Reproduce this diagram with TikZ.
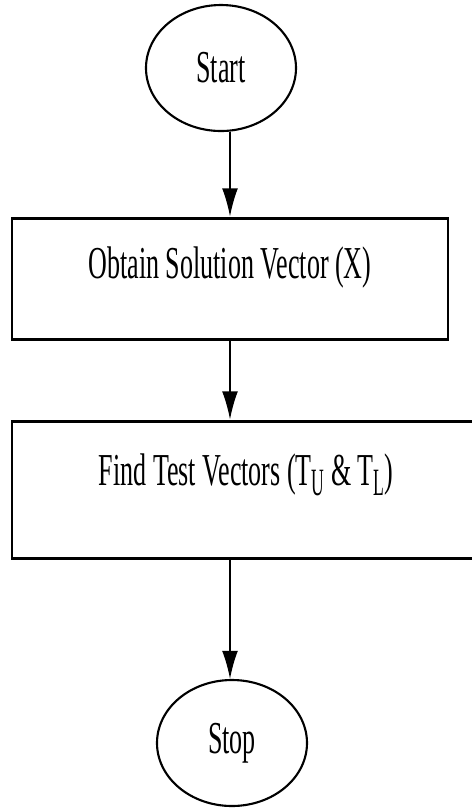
\documentclass[tikz,border=0pt]{standalone}
\usepackage{fontspec}
\setmainfont{Liberation Serif}[FakeStretch=0.57]
\usetikzlibrary{arrows.meta}
\usetikzlibrary{shapes.geometric}
\newcommand{\lowidx}[1]{\raisebox{-6pt}{\fontsize{22}{22}\selectfont\scalebox{0.8}[1]{#1}}}

\begin{document}
\begin{tikzpicture}[every node/.style={font=\fontsize{26}{30}\selectfont,inner sep=0pt}]
  \useasboundingbox (0,0) rectangle (9.44,-16.18);
  \node (1) [draw,ellipse,line width=1.2pt,minimum width=3cm,minimum height=2.52cm] at (4.42,-1.36) {Start};
  \node (2) [draw,line width=1.7pt,minimum width=8.72cm,text height=1.2cm,text depth=1.22cm] at (4.6,-5.57) {Obtain Solution Vector (X)};
  \node (3) [draw,line width=1.7pt,minimum width=9.36cm,text height=1.28cm,text depth=1.46cm] at (4.92,-9.79) {Find Test Vectors (T\lowidx{U} \& T\lowidx{L})};
  \node (4) [draw,ellipse,line width=1.2pt,minimum width=3cm,minimum height=2.52cm] at (4.64,-14.86) {Stop};

  \path[-{Latex[length=16pt,width=9pt]},black,line width=0.85pt]
  (1.south -| 2.north) edge (2.north)
  (2.south) edge (2.south |- 3.north)
  (3.south -| 2.south) edge (4.north -| 2.south);
\end{tikzpicture}
\end{document}
